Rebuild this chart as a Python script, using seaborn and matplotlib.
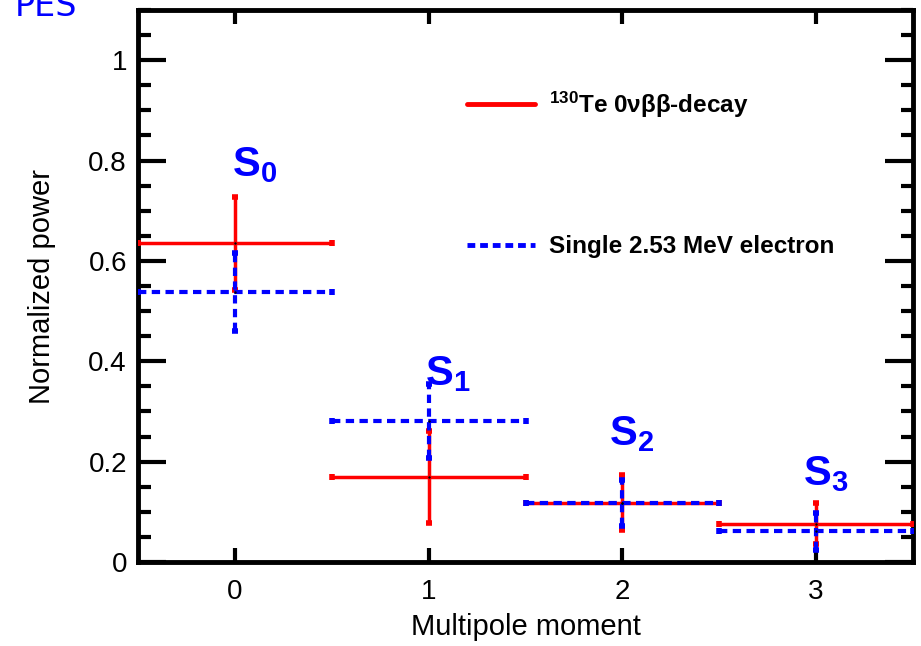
import numpy as np
import pandas as pd
import matplotlib
matplotlib.use("Agg")
import matplotlib.pyplot as plt
import seaborn as sns
from matplotlib.ticker import MultipleLocator, FuncFormatter
from matplotlib.lines import Line2D

# ---- data ----
moments = [0, 1, 2, 3]
labels = ["S_0", "S_1", "S_2", "S_3"]
te_power = [0.635, 0.170, 0.118, 0.076]
te_err = [0.092, 0.092, 0.055, 0.041]
el_power = [0.538, 0.281, 0.118, 0.061]
el_err = [0.078, 0.074, 0.046, 0.037]
bin_halfwidth = [0.5, 0.5, 0.5, 0.5]
label_x = [0.1, 1.1, 2.05, 3.05]
label_y = [0.79, 0.375, 0.255, 0.175]
y_ticks = [0, 0.2, 0.4, 0.6, 0.8, 1.0]
te_name = r"$^{\mathbf{130}}$Te 0νββ-decay"
el_name = "Single 2.53 MeV electron"

sns.set_theme(style="ticks")
plt.rcParams['font.family'] = ['Liberation Sans', 'DejaVu Sans']
plt.rcParams['mathtext.fontset'] = 'custom'
plt.rcParams['mathtext.rm'] = 'Liberation Sans'
plt.rcParams['mathtext.bf'] = 'Liberation Sans:bold'
plt.rcParams['mathtext.it'] = 'Liberation Sans:italic'
for k in ['text.color', 'axes.labelcolor', 'xtick.color', 'ytick.color',
          'xtick.labelcolor', 'ytick.labelcolor']:
    plt.rcParams[k] = 'black'

fig = plt.figure(figsize=(9.21, 6.46), dpi=100)
ax = fig.add_axes([138/921, 1-562/646, (913-138)/921, (562-10)/646])

RED = "#FF0000"
BLUE = "#0000FF"

df = pd.DataFrame({"moment": moments, "te": te_power, "el": el_power})

# red series
eb1 = ax.errorbar(moments, te_power, xerr=bin_halfwidth, yerr=te_err, fmt='none',
                  ecolor=RED, elinewidth=2.5, capsize=2.5, capthick=4, zorder=3)
# blue series (dashed)
eb2 = ax.errorbar(moments, el_power, xerr=bin_halfwidth, yerr=el_err, fmt='none',
                  ecolor=BLUE, elinewidth=3.0, capsize=2.5, capthick=4, zorder=4)
for lc in eb2[2]:
    lc.set_linestyle((0, (2.0, 1.3)))

sns.scatterplot(data=df, x="moment", y="te", ax=ax, color="black", s=3, zorder=5, linewidth=0)
sns.scatterplot(data=df, x="moment", y="el", ax=ax, color="black", s=3, zorder=5, linewidth=0)

for lx, ly, lab in zip(label_x, label_y, labels):
    ax.text(lx, ly, r"$\mathbf{%s}$" % lab, color=BLUE,
            fontsize=30, ha='center', va='center', fontweight='bold')

ax.set_xlim(-0.5, 3.5)
ax.set_ylim(0, 1.1)
ax.set_xticks(moments)
ax.set_yticks(y_ticks)
ax.yaxis.set_major_formatter(FuncFormatter(lambda v, p: "%g" % round(v, 2)))
ax.yaxis.set_minor_locator(MultipleLocator(0.05))
ax.set_xlabel("Multipole moment", fontsize=21, labelpad=6)
ax.set_ylabel("Normalized power", fontsize=21, labelpad=23)

for s in ax.spines.values():
    s.set_linewidth(3.5)
    s.set_color("black")
ax.tick_params(axis='x', which='major', direction='in', length=10, width=3,
               top=True, bottom=True, labelsize=20, pad=12)
ax.tick_params(axis='x', which='minor', bottom=False, top=False)
ax.tick_params(axis='y', which='major', direction='in', length=20, width=3,
               left=True, right=True, labelsize=20, pad=8)
ax.tick_params(axis='y', which='minor', direction='in', length=9, width=3,
               left=True, right=True)

handles = [Line2D([], [], color=RED, lw=3.5),
           Line2D([], [], color=BLUE, lw=3.5, ls=(0, (1.6, 1.0)))]
leg = ax.legend(handles, [te_name, el_name], loc='upper left',
                bbox_to_anchor=(0.396, 0.895), frameon=False,
                prop={'weight': 'bold', 'size': 17.5}, handlelength=2.8,
                handletextpad=0.6, labelspacing=4.75)
for t in leg.get_texts():
    t.set_color('black')

fig.text(15/921, 1-16/646, "PES", color=BLUE, fontsize=24,
         family='DejaVu Sans', va='baseline', ha='left')

fig.savefig("out.png", dpi=100)
